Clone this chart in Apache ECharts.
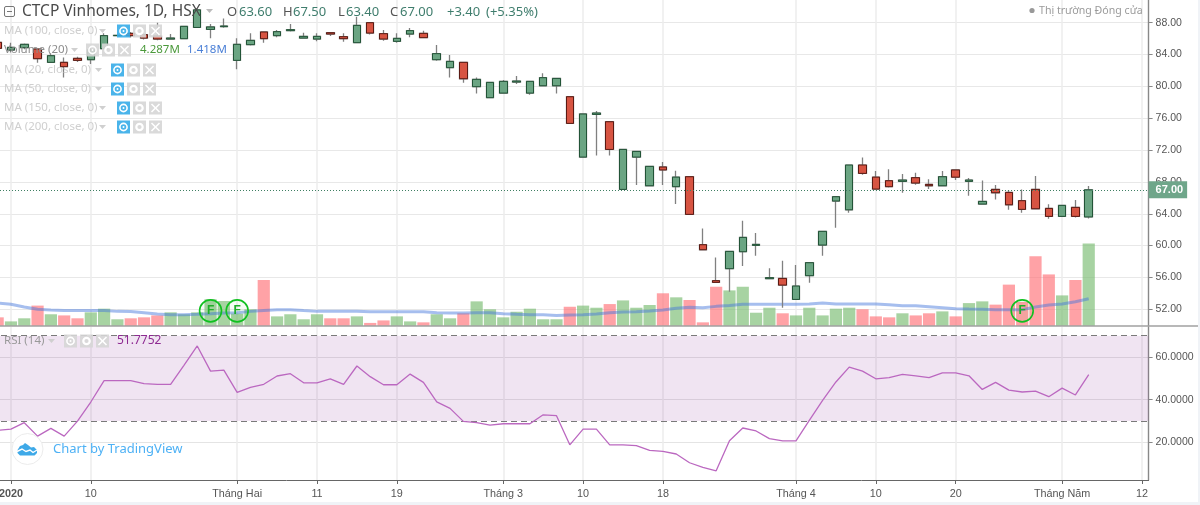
<!DOCTYPE html>
<html>
<head>
<meta charset="utf-8">
<title>CTCP Vinhomes</title>
<script src="https://cdn.jsdelivr.net/npm/echarts@6/dist/echarts.min.js"></script>
<style>
html, body { margin: 0; padding: 0; background: #fff; }
#main { width: 1200px; height: 505px; }
</style>
</head>
<body>
<div id="main"></div>
<script>
// giá mỗi phiên, phiên đầu tiên bị cắt ở mép trái
var opens = [85.53,84.57,84.86,84.69,83.02,83.02,83.52,83.35,84.73,86.37,86.66,86.49,86.32,85.95,85.99,87.4,87.16,87.5,83.27,85.24,86.83,86.37,87.0,86.07,85.95,86.74,86.24,85.49,88,86.62,85.66,86.58,86.66,83.35,82.35,83.02,79.96,78.58,79.16,80.55,79.16,80.08,80.08,78.7,71.12,76.48,75.56,67.06,71.12,67.52,69.87,67.4,68.65,60.11,55.59,57.1,59.23,60.03,55.84,55.88,53.24,56.22,60.07,65.6,64.5,70.12,68.6,68.15,68.07,68.53,67.69,67.52,69.5,68.07,65.22,67.06,66.68,65.64,67.06,64.67,63.67,64.8,63.6];
var closes = [84.78,84.9,85.28,83.48,83.85,82.47,83.27,84.57,86.37,86.41,86.37,86.07,85.95,86.07,87.54,89.6,87.46,87.58,85.28,85.78,85.99,86.87,87.12,86.28,86.28,86.58,85.99,87.66,86.7,85.95,86.03,87,86.12,84.11,83.14,80.96,80.88,80.5,80.63,80.67,80.63,81.09,81,75.35,76.53,76.65,72.08,72.08,71.83,69.95,69.5,68.6,63.92,59.48,55.38,59.27,61.03,60.15,55.97,55.04,54.92,57.85,61.79,66.14,70.12,69.07,67.1,67.4,68.23,67.86,67.52,68.65,68.6,68.23,65.55,66.64,65.13,64.55,64.63,63.67,65.05,63.67,67];
var lows = [84.6,84.27,84.65,82.97,83.02,81.13,83.06,82.81,84.65,86.3,86.15,85.9,85.8,85.9,85.99,87.4,86.03,87.37,82.14,85.15,85.49,86.16,86.9,86,85.66,86.32,85.6,85.49,86.53,85.74,85.49,86.16,86.03,83.23,81.13,80.46,79.12,78.58,79.08,80.3,78.95,80.08,79.12,75.35,71.12,71.33,71.33,67.06,67.6,67.52,67.6,65.22,63.92,59.48,55.34,54.2,57.43,58.73,55.84,52.2,53.24,55.34,58.73,62.25,64.13,68.9,67.1,67.3,66.64,67.65,67.1,67.52,68.23,66.27,65.22,65.8,64.5,64.13,64.63,63.38,63.67,63.54,63.4];
var highs = [85.6,85.49,85.4,84.69,84.15,83.64,83.73,84.86,86.66,86.5,86.83,86.6,88,86.58,87.54,89.8,87.83,88.54,86.03,86.66,86.83,87.08,87.83,86.74,86.66,86.83,86.66,88.75,88,87.08,86.66,87.33,87,85.2,83.94,83.02,81.13,80.5,80.8,81.3,80.63,81.64,81,78.7,76.53,76.9,75.56,72.08,71.83,69.95,70.5,69.4,68.65,62.16,58.52,59.27,63.13,61.58,57.14,58.1,57.56,57.85,61.79,66.14,70.12,71.08,69.37,69.6,69,69.16,68.32,69.37,69.5,68.49,68.19,67.6,66.98,67.06,68.74,65.18,65.05,65.72,67.5];

// khối lượng, triệu cổ phiếu
var volumes = [0.45,0.24,0.40,1.06,0.61,0.55,0.40,0.71,0.90,0.35,0.40,0.45,0.55,0.71,0.61,0.71,1.39,1.30,0.64,0.87,2.39,0.50,0.61,0.35,0.61,0.40,0.40,0.50,0.16,0.29,0.50,0.24,0.19,0.61,0.40,0.66,1.28,0.87,0.45,0.74,0.90,0.35,0.35,1.00,1.06,0.95,1.14,1.33,0.95,1.09,1.70,1.49,1.35,0.19,2.04,1.85,2.04,0.69,0.95,0.66,0.55,0.95,0.55,0.90,0.95,0.87,0.50,0.45,0.66,0.55,0.66,0.76,0.50,1.19,1.28,1.11,2.15,1.25,3.62,2.68,1.59,2.39,4.287];
var volumeMa = [1.19,1.13,0.99,0.87,0.83,0.80,0.80,0.80,0.80,0.76,0.75,0.69,0.62,0.59,0.59,0.61,0.64,0.68,0.69,0.76,0.81,0.85,0.85,0.80,0.76,0.76,0.76,0.76,0.74,0.74,0.74,0.74,0.74,0.69,0.67,0.67,0.69,0.69,0.64,0.61,0.59,0.59,0.55,0.57,0.59,0.62,0.69,0.73,0.74,0.78,0.83,0.92,0.97,0.95,1.02,1.07,1.13,1.13,1.13,1.13,1.13,1.14,1.19,1.14,1.14,1.14,1.14,1.11,1.05,1.05,1.00,0.95,0.90,0.88,0.87,0.85,0.85,0.85,0.99,1.09,1.14,1.26,1.418];

// RSI 14
var rsi = [25.6,26.2,29.2,22.9,26.5,22.9,29.95,38.9,48.9,48.9,48.9,47.5,47.2,47.2,56.1,65.2,53.4,53.9,43.4,45.8,47.2,51.1,52.2,47.9,47.9,49.8,47.2,55.8,50.8,47,47,52,48.1,39,35.9,29.8,29.2,28.1,28.7,28.7,28.7,32.9,32.5,18.8,26.2,26.2,18.8,18.8,18.4,16.2,15.7,14.5,10.4,8.2,6.6,20.7,26.7,25.3,21.7,20.7,20.7,30.3,39.7,48.3,55.3,53.4,49.8,50.3,51.9,51.2,50.3,52.6,52.6,51.2,44.8,48.1,44.5,43.6,44,41.4,45.4,42.2,51.7752];

// trục thời gian: phiên -1 đến 85
var sessionCount = 87;
var tickIndex = [1,7,18,24,30,38,44,50,60,66,72,80,86];
var tickText = ['2020','10','Tháng Hai','11','19','Tháng 3','10','18','Tháng 4','10','20','Tháng Năm','12'];
var priceTicks = [52,56,60,64,68,72,76,80,84,88];
var rsiTicks = [20,40,60];
var lastPrice = 67;
var rsiBand = [30,70];
var earningsIndex = [16,18,77];
var earningsY = [51.8,51.8,51.8];

var UP = '#6ba583', DOWN = '#d75442';
var TEXT_FONT = '"Noto Sans", sans-serif';
var AXIS_FONT = '"Liberation Sans", Arial, sans-serif';

var categories = [];
for (var i = 0; i < sessionCount; i++) {
    var pos = tickIndex.indexOf(i);
    categories.push(pos >= 0 ? tickText[pos] : '');
}
var isTick = function (index) { return tickIndex.indexOf(index) >= 0; };

var ohlc = [], bodies = [], earnings = [];
for (var k = 0; k < closes.length; k++) {
    ohlc.push([opens[k], closes[k], lows[k], highs[k]]);
    bodies.push([opens[k], closes[k], Math.min(opens[k], closes[k]), Math.max(opens[k], closes[k])]);
}
for (var e = 0; e < earningsIndex.length; e++) {
    earnings.push([earningsIndex[e], earningsY[e]]);
}

// chữ và icon phủ lên biểu đồ
var overlay = [];
function label(x, y, text, color, size, weight) {
    overlay.push({
        type: 'text', x: x, y: y, silent: true, z: 100,
        style: { text: text, fill: color, font: (weight || 'normal') + ' ' + size + 'px ' + TEXT_FONT, textVerticalAlign: 'middle' }
    });
}
function caret(x, y, color) {
    overlay.push({ type: 'polygon', silent: true, z: 100, shape: { points: [[x, y - 2], [x + 7, y - 2], [x + 3.5, y + 2]] }, style: { fill: color } });
}
function iconBox(x, y, color) {
    overlay.push({ type: 'rect', silent: true, z: 100, shape: { x: x, y: y - 6.5, width: 13, height: 13 }, style: { fill: color, opacity: 0.9 } });
}
function eye(x, y, color) {
    iconBox(x, y, color);
    overlay.push({ type: 'circle', silent: true, z: 101, shape: { cx: x + 6.5, cy: y, r: 3.6 }, style: { fill: 'none', stroke: '#fff', lineWidth: 1.6 } });
    overlay.push({ type: 'circle', silent: true, z: 101, shape: { cx: x + 6.5, cy: y, r: 1 }, style: { fill: '#fff' } });
}
function gear(x, y) {
    iconBox(x, y, '#d6d6d6');
    overlay.push({ type: 'circle', silent: true, z: 101, shape: { cx: x + 6.5, cy: y, r: 3.2 }, style: { fill: 'none', stroke: '#fff', lineWidth: 2.2 } });
}
function cross(x, y) {
    iconBox(x, y, '#d6d6d6');
    overlay.push({ type: 'line', silent: true, z: 101, shape: { x1: x + 2.5, y1: y - 4, x2: x + 10.5, y2: y + 4 }, style: { stroke: '#fff', lineWidth: 1.6 } });
    overlay.push({ type: 'line', silent: true, z: 101, shape: { x1: x + 10.5, y1: y - 4, x2: x + 2.5, y2: y + 4 }, style: { stroke: '#fff', lineWidth: 1.6 } });
}
function studyRow(y, text, caretX, iconX, eyeColor, textColor) {
    label(4, y, text, textColor || '#cfcfcf', 11.5);
    caret(caretX, y, '#d0d0d0');
    eye(iconX, y, eyeColor || '#36ace8');
    gear(iconX + 16, y);
    cross(iconX + 32, y);
}

// dòng tiêu đề
overlay.push({ type: 'rect', silent: true, z: 100, shape: { x: 4.5, y: 6.5, width: 10, height: 10, r: 1.5 }, style: { fill: 'none', stroke: '#777', lineWidth: 1 } });
overlay.push({ type: 'line', silent: true, z: 100, shape: { x1: 7, y1: 11.5, x2: 12, y2: 11.5 }, style: { stroke: '#777', lineWidth: 1 } });
label(22, 12, 'CTCP Vinhomes, 1D, HSX', '#4a4a4a', 15.5);
caret(206, 11, '#bbb');
label(227, 12, 'O', '#555', 13);
label(239, 12, '63.60', '#3f7d6d', 13);
label(283, 12, 'H', '#555', 13);
label(293, 12, '67.50', '#3f7d6d', 13);
label(338, 12, 'L', '#555', 13);
label(346, 12, '63.40', '#3f7d6d', 13);
label(390, 12, 'C', '#555', 13);
label(400, 12, '67.00', '#3f7d6d', 13);
label(447, 12, '+3.40', '#3f7d6d', 13);
label(486, 12, '(+5.35%)', '#3f7d6d', 13);

studyRow(31, 'MA (100, close, 0)', 99, 117);
studyRow(50, 'Volume (20)', 71, 86, '#d6d6d6', '#8d8d8d');
label(140, 50, '4.287M', '#4c9a3c', 11.5);
label(187, 50, '1.418M', '#4a7fd6', 11.5);
studyRow(70, 'MA (20, close, 0)', 95, 111);
studyRow(89, 'MA (50, close, 0)', 95, 111);
studyRow(108, 'MA (150, close, 0)', 99, 117);
studyRow(127, 'MA (200, close, 0)', 99, 117);

// trạng thái thị trường
overlay.push({ type: 'circle', silent: true, z: 100, shape: { cx: 1032, cy: 10.5, r: 2.6 }, style: { fill: '#999' } });
label(1039, 10.5, 'Thị trường Đóng cửa', '#9a9a9a', 10.6);

// dòng RSI
label(4, 341, 'RSI (14)', '#999', 11.5);
caret(48, 341, '#cfcfcf');
eye(64, 341, '#d6d6d6');
gear(80, 341);
cross(96, 341);
label(117, 341, '51.7752', '#8e2a92', 12);

// logo
overlay.push({ type: 'circle', silent: true, z: 100, shape: { cx: 27.5, cy: 449, r: 15.5 }, style: { fill: '#fff', stroke: '#ececec', lineWidth: 1 } });
overlay.push({ type: 'polygon', silent: true, z: 100, shape: { points: [[17.5, 450], [20, 446], [23, 445], [25, 443], [28, 445], [31, 447.5], [34, 447], [37, 450], [37, 453], [34.5, 455.5], [20, 455.5], [17.5, 453]] }, style: { fill: '#3ea9e8' } });
overlay.push({ type: 'polyline', silent: true, z: 101, shape: { points: [[17, 451.5], [22, 449], [26, 451.5], [30, 450], [33, 452.5], [37, 450]] }, style: { fill: 'none', stroke: '#fff', lineWidth: 1.4 } });
label(53, 449, 'Chart by TradingView', '#4db1f5', 13);

// đường phân cách giữa hai khung, viền nhạt của ảnh
overlay.push({ type: 'line', silent: true, z: 50, shape: { x1: 0, y1: 326, x2: 1198, y2: 326 }, style: { stroke: '#a0a0a0', lineWidth: 1.4 } });
overlay.push({ type: 'rect', silent: true, z: 99, shape: { x: 0, y: 502, width: 1200, height: 3 }, style: { fill: '#f0f3f7' } });
overlay.push({ type: 'rect', silent: true, z: 99, shape: { x: 1198, y: 0, width: 2, height: 505 }, style: { fill: '#f0f3f7' } });

var chart = echarts.init(document.getElementById('main'));

var xBase = function (gridIndex, show) {
    return {
        type: 'category',
        gridIndex: gridIndex,
        data: categories,
        boundaryGap: true,
        axisLine: { show: show, lineStyle: { color: '#666', width: 1 } },
        axisTick: { show: show, alignWithLabel: true, interval: isTick, length: 4, lineStyle: { color: '#666' } },
        splitLine: { show: true, alignWithLabel: true, interval: isTick, lineStyle: { color: '#ececec', width: 1.5 } },
        axisLabel: {
            show: show,
            interval: isTick,
            color: '#555',
            fontFamily: AXIS_FONT,
            fontSize: 10.8,
            margin: 9,
            formatter: function (v) { return v === '2020' ? '{b|2020}' : v; },
            rich: { b: { fontWeight: 'bold', color: '#555', fontFamily: AXIS_FONT, fontSize: 10.8 } }
        }
    };
};

var option = {
    animation: false,
    backgroundColor: '#fff',
    grid: [
        { left: -9, width: 1157.6, top: 0, height: 326, outerBoundsMode: 'none' },
        { left: -9, width: 1157.6, top: 327, height: 153, outerBoundsMode: 'none' }
    ],
    xAxis: [xBase(0, false), xBase(1, true)],
    yAxis: [
        {
            type: 'value',
            gridIndex: 0,
            position: 'right',
            min: 49.9,
            max: 90.85,
            axisLine: { show: true, lineStyle: { color: '#888', width: 1.4 } },
            axisTick: { show: true, length: 4, customValues: priceTicks, lineStyle: { color: '#888' } },
            splitLine: { show: true, lineStyle: { color: '#e8e8e8', width: 1.2 } },
            axisLabel: {
                customValues: priceTicks,
                color: '#555',
                fontFamily: AXIS_FONT,
                fontSize: 10.5,
                margin: 7,
                formatter: function (v) { return v.toFixed(2); }
            }
        },
        { // khối lượng dùng trục ẩn
            type: 'value',
            gridIndex: 0,
            min: 0,
            max: 16.94,
            show: false,
            splitLine: { show: false }
        },
        {
            type: 'value',
            gridIndex: 1,
            position: 'right',
            min: 2.3,
            max: 74.1,
            axisLine: { show: true, lineStyle: { color: '#888', width: 1.4 } },
            axisTick: { show: true, length: 4, customValues: rsiTicks, lineStyle: { color: '#888' } },
            splitLine: { show: true, lineStyle: { color: '#e4e4e4', width: 1.2 } },
            axisLabel: {
                customValues: rsiTicks,
                color: '#555',
                fontFamily: AXIS_FONT,
                fontSize: 10.5,
                margin: 7,
                formatter: function (v) { return v.toFixed(4); }
            }
        }
    ],
    series: [
        {
            name: 'Volume',
            type: 'bar',
            xAxisIndex: 0,
            yAxisIndex: 1,
            z: 1,
            barWidth: 12.2,
            data: volumes,
            itemStyle: {
                color: function (p) {
                    return closes[p.dataIndex] >= opens[p.dataIndex] ? 'rgba(120,188,112,0.65)' : 'rgba(255,112,118,0.65)';
                }
            }
        },
        {
            name: 'Volume MA',
            type: 'line',
            xAxisIndex: 0,
            yAxisIndex: 1,
            z: 2,
            symbol: 'none',
            data: volumeMa,
            lineStyle: { color: 'rgba(70,120,220,0.48)', width: 3 }
        },
        { // râu nến
            name: 'Bấc',
            type: 'candlestick',
            xAxisIndex: 0,
            yAxisIndex: 0,
            z: 3,
            barWidth: 8,
            data: ohlc,
            itemStyle: { color: UP, color0: DOWN, borderColor: '#808080', borderColor0: '#808080', borderWidth: 1.3 },
            markLine: {
                silent: true,
                symbol: 'none',
                animation: false,
                data: [{ yAxis: lastPrice }],
                lineStyle: { color: '#3f7f63', type: [1, 2], width: 1 },
                label: {
                    position: 'end',
                    distance: 0,
                    formatter: '67.00',
                    color: '#fff',
                    fontWeight: 'bold',
                    fontFamily: AXIS_FONT,
                    fontSize: 11,
                    backgroundColor: '#6fa68a',
                    padding: [3, 4, 3, 7]
                }
            }
        },
        { // thân nến
            name: 'Thân',
            type: 'candlestick',
            xAxisIndex: 0,
            yAxisIndex: 0,
            z: 4,
            barWidth: 8,
            data: bodies,
            itemStyle: { color: UP, color0: DOWN, borderColor: '#225437', borderColor0: '#5b1a13', borderWidth: 1 }
        },
        {
            name: 'Earnings',
            type: 'scatter',
            xAxisIndex: 0,
            yAxisIndex: 0,
            z: 5,
            symbol: 'circle',
            symbolSize: 22,
            data: earnings,
            itemStyle: { color: 'rgba(0,190,0,0.04)', borderColor: '#10c020', borderWidth: 1.6, opacity: 1 },
            label: { show: true, position: 'inside', formatter: 'F', color: '#1fae2a', fontWeight: 'bold', fontFamily: AXIS_FONT, fontSize: 12 }
        },
        {
            name: 'RSI',
            type: 'line',
            xAxisIndex: 1,
            yAxisIndex: 2,
            z: 5,
            symbol: 'none',
            data: rsi,
            lineStyle: { color: '#bb68c0', width: 1.3 },
            markArea: {
                silent: true,
                animation: false,
                itemStyle: { color: 'rgba(130,30,147,0.12)' },
                data: [[{ yAxis: rsiBand[0] }, { yAxis: rsiBand[1] }]]
            },
            markLine: {
                silent: true,
                symbol: 'none',
                animation: false,
                label: { show: false },
                lineStyle: { color: '#7a7a7a', type: [6, 4], width: 1 },
                data: [{ yAxis: rsiBand[0] }, { yAxis: rsiBand[1] }]
            }
        }
    ],
    graphic: overlay
};
chart.setOption(option);
</script>
</body>
</html>
